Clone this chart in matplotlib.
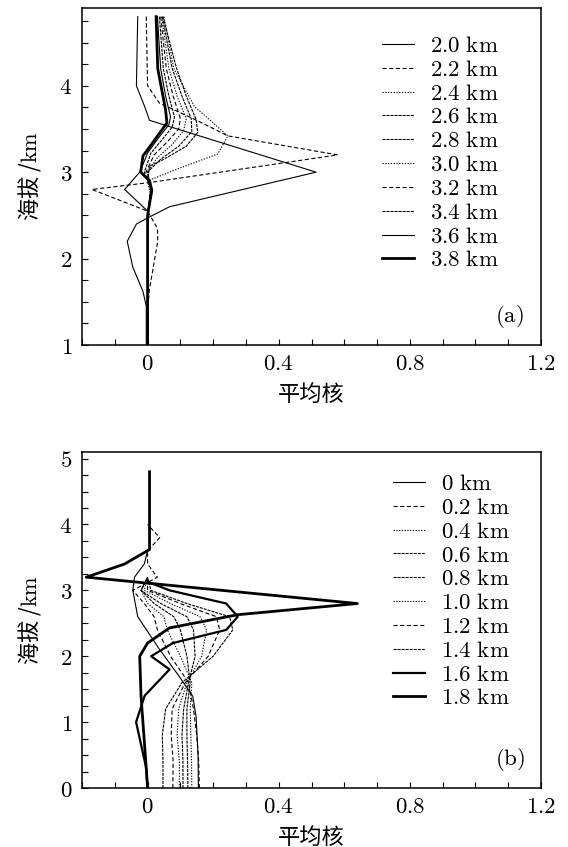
import matplotlib
matplotlib.use('Agg')
import matplotlib.pyplot as plt
from matplotlib.ticker import MultipleLocator, FuncFormatter

plt.rcParams['mathtext.fontset'] = 'cm'
plt.rcParams['font.family'] = ['DejaVu Serif']
plt.rcParams['lines.scale_dashes'] = False

# ---------------- panel (a) data: (altitude km, mean kernel) ----------------
labels_a = ['2.0', '2.2', '2.4', '2.6', '2.8', '3.0', '3.2', '3.4', '3.6', '3.8']

a20_y = [4.8, 4.0, 3.76, 3.6, 3.0, 2.6, 2.47, 2.4, 2.2, 1.9, 1.62, 1.45, 1.0]
a20_x = [-0.03, -0.034, -0.009, 0.006, 0.514, 0.067, 0.0, -0.034, -0.062, -0.045, -0.014, -0.004, -0.004]
a22_y = [4.8, 4.0, 3.8, 3.6, 3.42, 3.2, 2.88, 2.8, 2.55, 2.35, 2.2, 1.65, 1.4, 1.0]
a22_x = [-0.004, 0.0, 0.036, 0.15, 0.245, 0.58, 0.006, -0.17, 0.0, 0.03, 0.031, 0.006, 0.0, 0.0]
a24_y = [4.8, 4.2, 3.76, 3.42, 3.21, 3.05, 2.9, 2.75, 2.5, 1.0]
a24_x = [0.05, 0.08, 0.143, 0.245, 0.214, 0.1, 0.0, 0.008, 0.0, 0.0]
a26_y = [4.8, 4.22, 3.88, 3.61, 3.46, 3.3, 3.15, 3.07, 2.9, 2.8, 2.5, 1.0]
a26_x = [0.047, 0.087, 0.118, 0.148, 0.153, 0.118, 0.05, 0.006, 0.0, 0.01, 0.0, 0.0]
a28_y = [4.8, 4.2, 3.88, 3.62, 3.47, 3.3, 3.15, 3.0, 2.8, 2.5, 1.0]
a28_x = [0.045, 0.075, 0.105, 0.133, 0.135, 0.095, 0.04, 0.0, 0.01, 0.0, 0.0]
a30_y = [4.8, 4.2, 3.88, 3.62, 3.48, 3.32, 3.17, 3.0, 2.8, 2.5, 1.0]
a30_x = [0.043, 0.065, 0.09, 0.118, 0.11, 0.075, 0.03, 0.0, 0.012, 0.0, 0.0]
a32_y = [4.8, 4.2, 3.88, 3.62, 3.5, 3.35, 3.2, 3.0, 2.8, 2.5, 1.0]
a32_x = [0.04, 0.057, 0.078, 0.1, 0.095, 0.06, 0.02, -0.005, 0.01, 0.0, 0.0]
a34_y = [4.8, 4.2, 3.88, 3.64, 3.52, 3.38, 3.22, 3.0, 2.8, 2.5, 1.0]
a34_x = [0.036, 0.048, 0.065, 0.082, 0.075, 0.045, 0.01, -0.01, 0.012, 0.0, 0.0]
a36_y = [4.8, 4.2, 3.88, 3.64, 3.55, 3.38, 3.22, 3.0, 2.8, 2.55, 1.0]
a36_x = [0.03, 0.04, 0.055, 0.07, 0.065, 0.03, 0.0, -0.024, -0.07, 0.0, 0.0]
a38_y = [4.8, 4.2, 3.72, 3.57, 3.26, 3.19, 3.0, 2.9, 2.79, 2.5, 1.0]
a38_x = [0.026, 0.031, 0.055, 0.059, 0.0, -0.014, -0.021, 0.006, 0.013, 0.0, 0.0]

# ---------------- panel (b) data ----------------
labels_b = ['0', '0.2', '0.4', '0.6', '0.8', '1.0', '1.2', '1.4', '1.6', '1.8']

b00_y = [0, 0.5, 1.08, 1.39, 1.69, 2.1, 2.6, 3.0, 3.2, 3.4, 3.6]
b00_x = [0.155, 0.154, 0.148, 0.138, 0.097, 0.037, -0.03, -0.045, -0.04, -0.01, 0.0]
b02_y = [0, 0.4, 0.8, 1.2, 1.6, 2.0, 2.4, 2.6, 2.8, 3.0, 3.2, 3.4, 3.6, 3.8, 4.0]
b02_x = [0.158, 0.156, 0.15, 0.14, 0.125, 0.07, 0.03, 0.02, -0.01, -0.045, 0.03, 0.0, 0.0, 0.037, 0.0]
b_fan_y = [0, 0.4, 0.8, 1.2, 1.6, 2.0, 2.4, 2.6, 2.8, 3.0, 3.2]
b04_x = [0.135, 0.134, 0.132, 0.13, 0.135, 0.1, 0.06, 0.05, 0.0, -0.02, 0.0]
b06_x = [0.123, 0.122, 0.12, 0.12, 0.13, 0.12, 0.1, 0.08, 0.02, -0.02, 0.0]
b08_x = [0.108, 0.108, 0.105, 0.11, 0.125, 0.145, 0.14, 0.12, 0.04, -0.02, 0.0]
b10_x = [0.097, 0.097, 0.09, 0.095, 0.12, 0.165, 0.18, 0.16, 0.07, -0.01, 0.0]
b12_x = [0.077, 0.078, 0.072, 0.075, 0.115, 0.185, 0.22, 0.21, 0.1, 0.0, 0.0]
b14_x = [0.047, 0.047, 0.045, 0.055, 0.105, 0.2, 0.26, 0.25, 0.12, 0.01, 0.0]
b16_y = [0, 0.3, 1.0, 1.4, 1.8, 2.0, 2.2, 2.4, 2.6, 2.8, 3.0, 3.13]
b16_x = [0.0, -0.004, -0.035, -0.009, 0.067, 0.011, 0.077, 0.24, 0.275, 0.24, 0.067, 0.0]
b18_y = [0, 0.3, 1.4, 2.0, 2.2, 2.43, 2.63, 2.8, 3.2, 3.4, 3.62, 4.8]
b18_x = [0.0, -0.004, -0.02, -0.024, 0.0, 0.067, 0.275, 0.64, -0.187, -0.07, 0.006, 0.006]

# ---------------- styles ----------------
SOLID = dict(ls='-', lw=0.8)
DASH = dict(ls=(0, (3.0, 1.8)), lw=0.8)
DOT = dict(ls=(0, (0.9, 1.1)), lw=0.8)
DENSE = dict(ls=(0, (2.2, 0.7)), lw=0.8)
MED = dict(ls='-', lw=1.6)
THICK = dict(ls='-', lw=2.0)

styles = [SOLID, DASH, DOT, DENSE, DENSE, DOT, DASH, DENSE, SOLID, THICK]
styles_b = [SOLID, DASH, DOT, DENSE, DENSE, DOT, DASH, DENSE, MED, THICK]

curves_a = [(a20_x, a20_y), (a22_x, a22_y), (a24_x, a24_y), (a26_x, a26_y),
            (a28_x, a28_y), (a30_x, a30_y), (a32_x, a32_y), (a34_x, a34_y),
            (a36_x, a36_y), (a38_x, a38_y)]
curves_b = [(b00_x, b00_y), (b02_x, b02_y), (b04_x, b_fan_y), (b06_x, b_fan_y),
            (b08_x, b_fan_y), (b10_x, b_fan_y), (b12_x, b_fan_y), (b14_x, b_fan_y),
            (b16_x, b16_y), (b18_x, b18_y)]

FIG_W, FIG_H = 568, 847
fig = plt.figure(figsize=(FIG_W / 100, FIG_H / 100), dpi=100)

def frac(l, t, r, b):
    return [l / FIG_W, 1 - b / FIG_H, (r - l) / FIG_W, (b - t) / FIG_H]

ax_a = fig.add_axes(frac(82, 8, 541, 345))
ax_b = fig.add_axes(frac(82, 452, 541, 788))

CJK = ['Noto Sans CJK SC', 'DejaVu Sans']
FS = 16.5

def fmt(v, pos):
    s = ('%.1f' % v) if abs(v - round(v)) > 1e-9 else '%d' % round(v)
    return '$%s$' % s

def style_axes(ax, ylim, yticks, letter, curves, labels, stys, legx, legy, xlab_y):
    for (x, y), lab, st in zip(curves, labels, stys):
        ax.plot(x, y, color='black', label=r'$%s\ \mathrm{km}$' % lab, **st)
    ax.set_xlim(-0.2, 1.2)
    ax.set_ylim(*ylim)
    ax.set_xticks([0, 0.4, 0.8, 1.2])
    ax.xaxis.set_minor_locator(MultipleLocator(0.1))
    ax.set_yticks(yticks)
    ax.yaxis.set_minor_locator(MultipleLocator(0.25))
    ax.xaxis.set_major_formatter(FuncFormatter(fmt))
    ax.yaxis.set_major_formatter(FuncFormatter(fmt))
    ax.tick_params(which='both', direction='in', length=4, width=0.8,
                   top=False, right=False, labelsize=FS)
    ax.tick_params(axis='x', pad=6)
    ax.tick_params(axis='y', pad=7)
    for sp in ax.spines.values():
        sp.set_linewidth(1.1)
    ax.set_xlabel('平均核', fontfamily=CJK, fontsize=16)
    ax.xaxis.set_label_coords(0.5, xlab_y)
    ax.set_ylabel('海拔 /$\\mathrm{km}$', fontfamily=CJK, fontsize=16)
    ax.yaxis.set_label_coords(-0.085, 0.5)
    ax.text(0.932, 0.085, '$(%s)$' % letter, transform=ax.transAxes,
            fontsize=FS, ha='center', va='center')
    ax.legend(loc='upper left', bbox_to_anchor=(legx, legy), frameon=False,
              fontsize=FS, handlelength=1.4, handletextpad=0.7,
              labelspacing=0.08, borderpad=0, borderaxespad=0)

style_axes(ax_a, (1, 4.9), [1, 2, 3, 4], r'\mathrm{a}', curves_a, labels_a, styles,
           0.654, 0.920, -0.112)
style_axes(ax_b, (0, 5.1), [0, 1, 2, 3, 4, 5], r'\mathrm{b}', curves_b, labels_b, styles_b,
           0.678, 0.9375, -0.112)

fig.savefig('out.png', dpi=100)
